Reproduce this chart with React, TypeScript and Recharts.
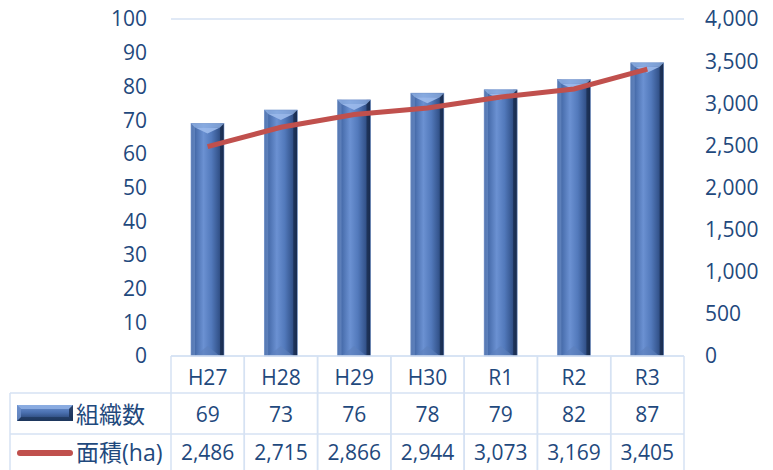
import React from 'react';
import { ComposedChart, Bar, Line, XAxis, YAxis, CartesianGrid } from 'recharts';

const categories = ['H27', 'H28', 'H29', 'H30', 'R1', 'R2', 'R3'];
const orgCounts = [69, 73, 76, 78, 79, 82, 87];
const areas = [2486, 2715, 2866, 2944, 3073, 3169, 3405];
const leftTicks = [0, 10, 20, 30, 40, 50, 60, 70, 80, 90, 100];
const rightTicks = [0, 500, 1000, 1500, 2000, 2500, 3000, 3500, 4000];
const seriesNames = ['組織数', '面積(ha)'];

const data = categories.map((c, i) => ({ name: c, org: orgCounts[i], area: areas[i] }));

const W = 773;
const H = 470;
const MARGIN = { top: 19, right: 9, bottom: 0, left: 111 };
const LEFT_W = 60;
const RIGHT_W = 80;
const PLOT_W = W - MARGIN.left - MARGIN.right - LEFT_W - RIGHT_W;
const BAND = PLOT_W / categories.length;

const TEXT = '#1f497d';
const GRID = '#d6e2f3';
const FONT = '"Open Sans", "Noto Sans CJK JP", sans-serif';
const FS = 21;

const fmt = (v: number) => v.toLocaleString('en-US');

function BarShape(props: any) {
  const { x, y, width, height } = props;
  if (!height || height <= 0) return null;
  const b = Math.min(10, height / 2);
  const s = 4;
  return (
    <g>
      <rect x={x} y={y} width={width} height={height} fill="url(#barGrad)" />
      <rect x={x} y={y} width={s} height={height} fill="#6e91cc" opacity={0.6} />
      <rect x={x + width - s} y={y} width={s} height={height} fill="#152744" opacity={0.6} />
      <polygon points={`${x},${y} ${x + width},${y} ${x + width - s},${y + s} ${x + s},${y + s}`} fill="#8fb0e4" opacity={0.8} />
      <polygon points={`${x + s},${y + s} ${x + width - s},${y + s} ${x + width / 2},${y + b}`} fill="#9dbbec" opacity={0.9} />
      <polygon points={`${x + s},${y + height} ${x + width - s},${y + height} ${x + width / 2},${y + height - b}`} fill="#5e80bd" opacity={0.6} />
      <rect x={x} y={y} width={width} height={height} fill="none" stroke="#7898cf" strokeWidth={0.6} />
    </g>
  );
}

function TableTick(props: any) {
  const { x, y, payload } = props;
  const i = payload.index;
  const half = BAND / 2;
  const left = x - half;
  const right = x + half;
  const row1 = y + 37;
  const row2 = y + 78;
  const bottom = y + 114;
  const textProps = {
    fill: TEXT,
    fontSize: FS,
    fontFamily: FONT,
    textAnchor: 'middle' as const,
    dominantBaseline: 'central' as const,
  };
  const ly = row1 + 12;
  return (
    <g>
      <line x1={left} y1={y} x2={left} y2={bottom} stroke={GRID} strokeWidth={1.5} />
      <line x1={right} y1={y} x2={right} y2={bottom} stroke={GRID} strokeWidth={1.5} />
      {i === 0 && (
        <g>
          <line x1={10} y1={row1} x2={left + BAND * categories.length} y2={row1} stroke={GRID} strokeWidth={1.5} />
          <line x1={10} y1={row2} x2={left + BAND * categories.length} y2={row2} stroke={GRID} strokeWidth={1.5} />
          <line x1={10} y1={row1} x2={10} y2={bottom} stroke={GRID} strokeWidth={1.5} />
          <rect x={17} y={ly} width={56} height={16} fill="url(#legGrad)" />
          <polygon points={`17,${ly} 73,${ly} 69,${ly + 4} 21,${ly + 4}`} fill="#8fb0e4" opacity={0.85} />
          <polygon points={`17,${ly + 16} 73,${ly + 16} 69,${ly + 12} 21,${ly + 12}`} fill="#1d3458" opacity={0.7} />
          <polygon points={`73,${ly} 73,${ly + 16} 69,${ly + 12} 69,${ly + 4}`} fill="#1a2f52" opacity={0.8} />
          <polygon points={`17,${ly} 17,${ly + 16} 21,${ly + 12} 21,${ly + 4}`} fill="#6e91cc" opacity={0.8} />
          <text x={76} y={(row1 + row2) / 2} fill={TEXT} fontSize={23} fontFamily={FONT} dominantBaseline="central">{seriesNames[0]}</text>
          <line x1={20} y1={(row2 + bottom) / 2 + 1} x2={70} y2={(row2 + bottom) / 2 + 1} stroke="#c0504d" strokeWidth={6} strokeLinecap="round" />
          <text x={76} y={(row2 + bottom) / 2} fill={TEXT} fontSize={23} fontFamily={FONT} dominantBaseline="central">{seriesNames[1]}</text>
        </g>
      )}
      <text x={x} y={y + 21} {...textProps}>{categories[i]}</text>
      <text x={x} y={(row1 + row2) / 2} {...textProps}>{orgCounts[i]}</text>
      <text x={x} y={(row2 + bottom) / 2} {...textProps}>{fmt(areas[i])}</text>
    </g>
  );
}

export default function App() {
  return (
    <div style={{ position: 'absolute', left: 0, top: 0, width: W, height: H, background: '#fff' }}>
      <ComposedChart width={W} height={H} data={data} margin={MARGIN}>
        <defs>
          <linearGradient id="barGrad" x1="0" y1="0" x2="1" y2="0">
            <stop offset="0%" stopColor="#34538a" />
            <stop offset="15%" stopColor="#4a6fae" />
            <stop offset="38%" stopColor="#6b91d2" />
            <stop offset="62%" stopColor="#5279bb" />
            <stop offset="85%" stopColor="#34548c" />
            <stop offset="100%" stopColor="#1b3158" />
          </linearGradient>
          <linearGradient id="legGrad" x1="0" y1="0" x2="0" y2="1">
            <stop offset="0%" stopColor="#6f94d2" />
            <stop offset="45%" stopColor="#4c72b2" />
            <stop offset="100%" stopColor="#203a66" />
          </linearGradient>
        </defs>
        <CartesianGrid vertical={false} stroke={GRID} strokeWidth={1.5} />
        <XAxis
          dataKey="name"
          xAxisId="x"
          height={114}
          interval={0}
          tickLine={false}
          tickSize={0}
          tickMargin={0}
          axisLine={{ stroke: GRID, strokeWidth: 1.5 }}
          tick={<TableTick />}
        />
        <YAxis
          yAxisId="left"
          orientation="left"
          width={LEFT_W}
          domain={[0, 100]}
          ticks={leftTicks}
          interval={0}
          axisLine={false}
          tickLine={false}
          tickSize={0}
          tickMargin={24}
          tick={{ fill: TEXT, fontSize: FS, fontFamily: FONT }}
        />
        <YAxis
          yAxisId="right"
          orientation="right"
          width={RIGHT_W}
          domain={[0, 4000]}
          ticks={rightTicks}
          interval={0}
          axisLine={false}
          tickLine={false}
          tickSize={0}
          tickMargin={21}
          tickFormatter={fmt}
          tick={{ fill: TEXT, fontSize: FS, fontFamily: FONT }}
        />
        <Bar
          dataKey="org"
          xAxisId="x"
          yAxisId="left"
          barSize={33}
          shape={<BarShape />}
          isAnimationActive={false}
        />
        <Line
          dataKey="area"
          xAxisId="x"
          yAxisId="right"
          type="linear"
          stroke="#c0504d"
          strokeWidth={5}
          dot={false}
          activeDot={false}
          isAnimationActive={false}
        />
      </ComposedChart>
    </div>
  );
}
